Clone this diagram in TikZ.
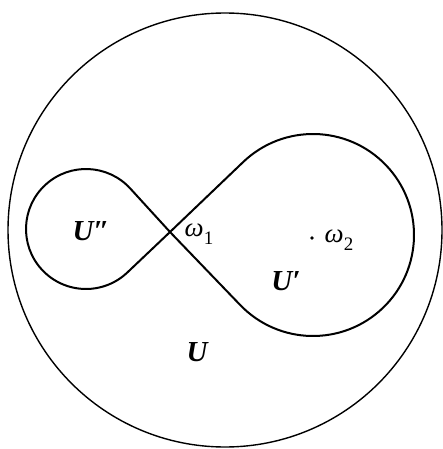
\documentclass[tikz,border=0pt]{standalone}
\usepackage{fontspec}
\setmainfont{Liberation Serif}
\usetikzlibrary{calc}
\newcommand{\mysub}[1]{\raisebox{-0.28em}{\fontsize{19}{21}\selectfont\upshape #1}}
\begin{document}
\begin{tikzpicture}[x=1pt,y=-1pt,
  curve/.style={line width=2pt,line join=round},
  outer/.style={line width=1.4pt},
  ulbl/.style={inner sep=0pt,font=\fontsize{29}{32}\selectfont\bfseries\itshape},
  wlbl/.style={inner sep=0pt,font=\fontsize{27}{30}\selectfont\itshape}]
\useasboundingbox (0,0) rectangle (443,449);
\coordinate (bigc) at (225,230);
\draw[outer] (bigc) circle[radius=217];
\coordinate (P) at (170,232);
\coordinate (R) at (313,235);
\coordinate (L) at (86,229);
\draw[curve] (P) -- ($(R)+(226.2:101)$) arc[start angle=226.2,end angle=496.2,radius=101]
  -- (P) -- ($(L)+(-42.4:60)$) arc[start angle=-42.4,end angle=-313.5,radius=60] -- cycle;
\fill (312,238) circle[radius=1.8pt];
\node[ulbl] (upp) at (91,231) {U″};
\node[wlbl] (w1) at (199,234) {ω\mysub{1}};
\node[wlbl] (w2) at (339,240) {ω\mysub{2}};
\node[ulbl] (up) at (286,281) {U′};
\node[ulbl] (u) at (197,352) {U};
\end{tikzpicture}
\end{document}
